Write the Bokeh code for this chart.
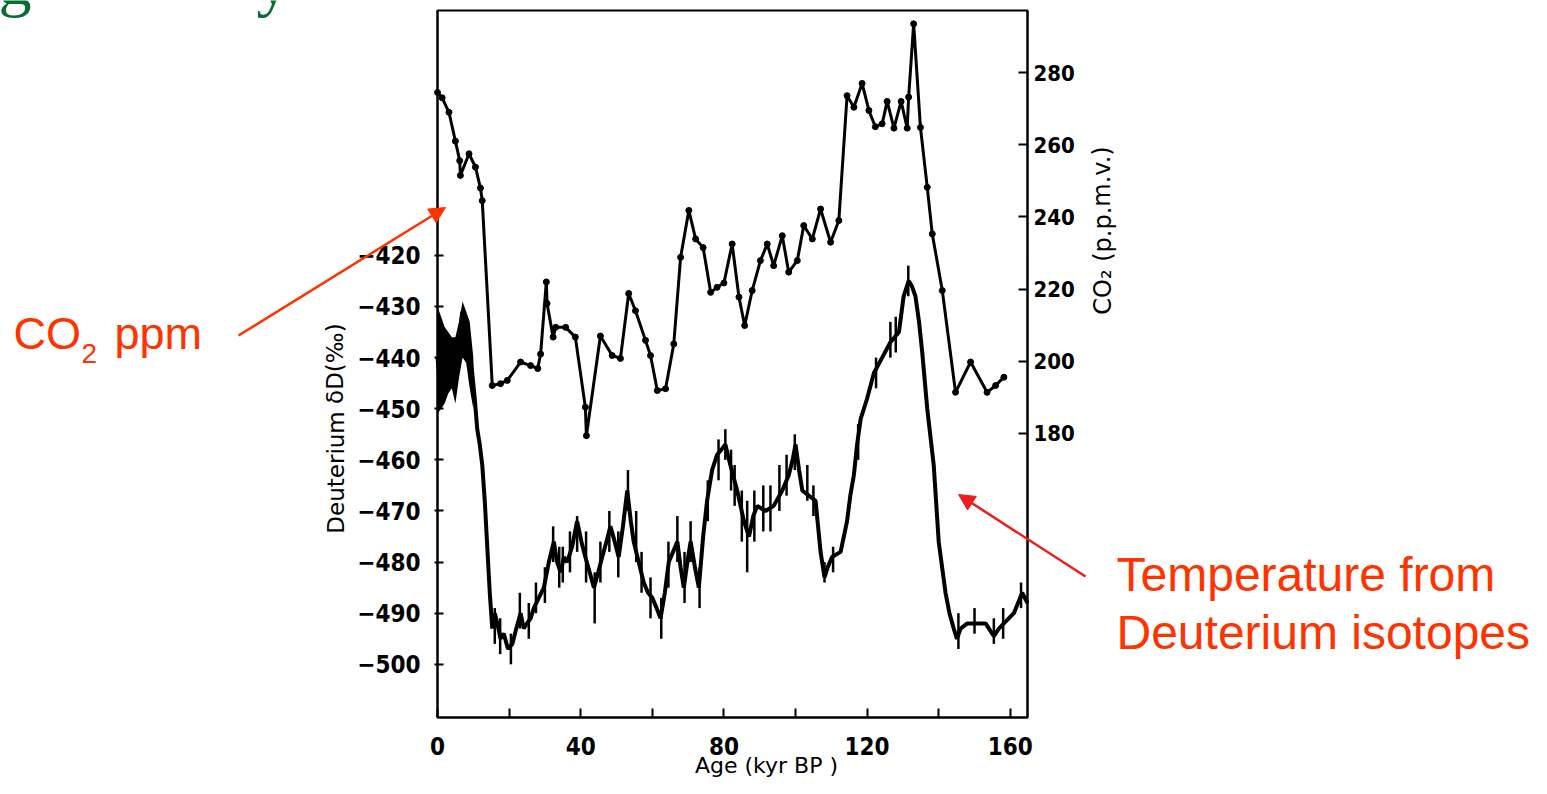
from bokeh.plotting import figure
from bokeh.models import (Range1d, LinearAxis, FixedTicker, Label, Arrow, NormalHead)
from bokeh.embed import file_html
from bokeh.resources import INLINE

# ---------------- data ----------------
co2_age = [0.0, 1.3, 3.2, 5.0, 6.2, 6.4, 8.8, 10.6, 12.0, 12.5, 15.3, 17.6, 19.5, 23.2, 26.0,
           28.0, 28.8, 30.4, 30.6, 32.3, 33.0, 35.8, 38.5, 41.3, 41.6, 45.5, 48.8, 51.1, 53.4,
           55.3, 58.1, 59.5, 61.4, 63.7, 66.0, 67.9, 70.2, 72.1, 74.2, 76.3, 78.1, 80.0, 82.3,
           84.2, 85.8, 87.9, 90.2, 92.1, 93.9, 96.3, 98.1, 100.5, 102.3, 104.7, 107.0, 109.8,
           112.1, 114.4, 116.3, 118.6, 120.5, 122.3, 124.2, 125.6, 127.5, 129.5, 131.2, 131.6,
           133.0, 134.9, 136.8, 138.2, 141.0, 144.7, 148.9, 153.5, 155.9, 158.2]
co2_ppm = [274.5, 273, 269, 261, 255.6, 251.5, 257.5, 253.8, 248, 244.5, 193.3, 193.8, 194.7,
           199.8, 198.8, 198, 202, 222, 216, 206.7, 209.4, 209.4, 206.7, 187.3, 179.4, 207,
           201.6, 200.8, 218.8, 214, 205.8, 201.6, 191.9, 192.4, 204.8, 228.8, 241.8, 233.9,
           231.5, 219.1, 220.5, 221.7, 232.5, 217.8, 209.9, 219.6, 227.9, 232.5, 226.5, 234.8,
           224.7, 227.9, 237.6, 233.9, 242.2, 233, 239, 273.6, 270.4, 277, 269.5, 265, 265.8,
           272, 264.6, 272, 264.6, 273.2, 293.5, 264.8, 248.2, 235.3, 219.6, 191.4, 199.8,
           191.4, 193.3, 195.6]

dd_age = [0.0, 0.8, 1.5, 2.2, 3.0, 3.6, 4.3, 5.0, 5.5, 6.2, 6.9, 7.6, 8.3, 9.0, 9.7, 10.4, 11.1,
          11.8, 12.5, 13.2, 13.9, 14.6, 15.3, 16.0, 16.7, 17.6, 18.5, 19.7, 20.9, 22.0, 23.2,
          24.1, 25.0, 26.0, 26.9, 28.3, 29.7, 31.1, 32.5, 33.4, 34.4, 35.3, 36.2, 37.6, 39.0,
          40.2, 41.3, 42.5, 43.7, 44.9, 46.0, 47.2, 48.3, 49.5, 50.6, 51.8, 53.0, 54.0, 54.8,
          56.2, 57.6, 58.8, 60.0, 61.2, 62.3, 63.5, 64.6, 65.8, 67.0, 67.9, 68.8, 69.8, 70.7,
          71.9, 73.0, 74.2, 75.3, 76.7, 78.1, 79.3, 80.4, 81.8, 83.7, 85.6, 87.0, 88.2, 89.3,
          91.6, 93.9, 96.3, 98.1, 99.2, 100.0, 101.0, 101.9, 103.7, 105.6, 107.0, 108.1, 109.0,
          110.2, 112.6, 113.5, 114.4, 115.3, 116.3, 117.2, 118.2, 120.0, 121.9, 124.2, 126.5,
          128.9, 130.2, 131.6, 132.5, 133.5, 134.5, 135.4, 136.8, 138.6, 140.0, 141.9, 143.0,
          144.2, 145.1, 146.1, 148.0, 150.8, 153.1, 155.4, 156.8, 158.2, 161.0, 163.3, 164.8]
dd_val = [-440, -446, -436, -443, -437, -440, -445, -438, -442, -436, -431, -436, -434, -438,
          -443, -448, -454, -457, -461, -468, -477, -486, -493, -490, -492, -495, -494, -497,
          -496, -493, -490, -493, -492, -491, -489, -487, -485, -480, -476, -480, -482, -479,
          -480, -477, -472, -476, -479, -482, -485, -482, -479, -476, -473, -476, -479, -473,
          -466, -472, -476, -480, -484, -486, -487, -489, -491, -486, -480, -478, -476, -481,
          -485, -480, -476, -481, -485, -475, -468, -462, -459, -458, -457, -461, -466, -472,
          -475, -471, -469, -470, -469, -466, -463, -460, -457, -462, -466, -467, -468, -478,
          -483, -481, -479, -478, -475, -472, -467, -463, -457, -452, -448, -443, -440, -437,
          -435, -428, -425, -426, -428, -433, -439, -450, -461, -476, -486, -490, -493, -495,
          -493, -492, -492, -492, -494.5, -493, -492, -490, -486, -488]

# dense scatter band of the most recent 10 kyr (age, lower edge, upper edge)
band_age = [0, 1, 2, 3, 4, 5, 6, 7, 8, 9, 10]
band_lo = [-451, -450, -449, -447, -446, -449, -444, -440, -441, -446, -450]
band_hi = [-430, -432, -434, -435, -436, -436, -433, -429, -431, -433, -440]

# short-term scatter of the deuterium record (age, low, high)
spk_age = [16.0, 17.5, 20.5, 23.0, 25.5, 27.5, 30.0, 32.3, 34.0, 35.0, 37.0, 39.0, 41.5,
           43.9, 45.5, 48.0, 50.5, 53.2, 55.5, 57.0, 59.5, 62.5, 64.5, 67.0, 69.0, 70.7,
           73.2, 75.5, 78.5, 80.4, 82.0, 83.0, 85.0, 86.5, 88.5, 91.0, 93.0, 95.5, 97.5,
           99.8, 103.3, 105.0, 108.1, 110.5, 117.5, 122.5, 126.5, 128.0, 131.5, 145.5,
           150.0, 155.4, 158.0, 163.0]
spk_lo = [-496, -498, -500, -493, -495, -490, -488, -480, -485, -484, -482, -478, -484,
          -492, -484, -478, -483, -470, -480, -486, -491, -495, -485, -480, -488, -480,
          -489, -472, -464, -460, -466, -469, -476, -482, -476, -474, -474, -470, -467,
          -462, -468, -471, -484, -482, -460, -446, -440, -439, -428, -497,
          -494, -496, -495, -489]
spk_hi = [-489, -491, -494, -486, -488, -484, -481, -473, -477, -477, -474, -471, -474,
          -482, -476, -470, -474, -462, -470, -478, -483, -487, -476, -471, -478, -472,
          -481, -464, -456, -454, -458, -461, -466, -468, -466, -465, -465, -461, -459,
          -455, -461, -465, -480, -477, -453, -440, -433, -432, -422, -490,
          -489, -491, -489, -484]

dd_ticks = [-500, -490, -480, -470, -460, -450, -440, -430, -420]
co2_ticks = [180, 200, 220, 240, 260, 280]
age_ticks = [0, 40, 80, 120, 160]
age_minor = [20, 60, 100, 140]

# ---------------- layout ----------------
W, H = 1531, 778
# pixel position of the chart box on the canvas
FL, FR, FT, FB = 437, 1027, 10, 717
XB = (0.0, 164.8)         # age at box left / right
YB = (-510.4, -372.1)     # deuterium at box bottom / top
RB = (101.3, 297.2)       # CO2 at box bottom / top

def ext(lo, hi, p_lo, p_hi, n):
    per = (hi - lo) / (p_hi - p_lo)
    return lo - p_lo * per, hi + (n - p_hi) * per

x_full = ext(XB[0], XB[1], FL, FR, W)
yl_full = ext(YB[0], YB[1], H - FB, H - FT, H)
yr_full = ext(RB[0], RB[1], H - FB, H - FT, H)

def dx(px):
    return x_full[0] + px * (x_full[1] - x_full[0]) / W

def dy(py):
    return yl_full[0] + (H - py) * (yl_full[1] - yl_full[0]) / H

p = figure(width=W, height=H, output_backend="svg", toolbar_location=None,
           x_range=Range1d(*x_full), y_range=Range1d(*yl_full),
           x_axis_location=None, y_axis_location=None,
           min_border=0)
p.background_fill_color = "white"
p.border_fill_color = "white"
p.outline_line_color = None
p.xgrid.visible = False
p.ygrid.visible = False

TICKFONT = "DejaVu Sans Condensed"

def style(axis, size):
    axis.major_label_text_font = TICKFONT
    axis.major_label_text_font_style = "bold"
    axis.major_label_text_font_size = size
    axis.major_label_text_color = "black"
    axis.axis_line_width = 2
    axis.axis_line_color = "black"
    axis.major_tick_line_width = 2
    axis.major_tick_line_color = "black"
    axis.minor_tick_line_width = 2
    axis.minor_tick_line_color = "black"

ax = LinearAxis(fixed_location=YB[0], bounds=XB,
                ticker=FixedTicker(ticks=age_ticks, minor_ticks=age_minor))
style(ax, "24px")
ax.major_tick_in = 9
ax.major_tick_out = 0
ax.minor_tick_in = 9
ax.minor_tick_out = 0
ax.major_label_standoff = 19
p.add_layout(ax, "below")

ay = LinearAxis(fixed_location=XB[0], bounds=YB, ticker=FixedTicker(ticks=dd_ticks))
style(ay, "24px")
ay.major_tick_in = 6
ay.major_tick_out = 3
ay.minor_tick_in = 0
ay.minor_tick_out = 0
ay.major_label_standoff = 14
p.add_layout(ay, "left")

p.extra_y_ranges = {"co2": Range1d(*yr_full)}
ar = LinearAxis(y_range_name="co2", fixed_location=XB[1], bounds=RB,
                ticker=FixedTicker(ticks=co2_ticks))
style(ar, "22px")
ar.major_tick_in = 9
ar.major_tick_out = 0
ar.minor_tick_in = 0
ar.minor_tick_out = 0
ar.major_label_standoff = 6
p.add_layout(ar, "right")

# chart box
p.quad(left=[XB[0]], right=[XB[1]], bottom=[YB[0]], top=[YB[1]],
       fill_color=None, line_color="black", line_width=2)

# ---------------- data marks ----------------
p.varea(x=band_age, y1=band_lo, y2=band_hi, fill_color="black")
p.segment(x0=spk_age, y0=spk_lo, x1=spk_age, y1=spk_hi, line_color="black", line_width=2.5)
p.line(dd_age, dd_val, line_color="black", line_width=4)
p.line(co2_age, co2_ppm, line_color="black", line_width=3, y_range_name="co2")
p.scatter(co2_age, co2_ppm, size=6, color="black", y_range_name="co2")

# ---------------- axis titles ----------------
p.add_layout(Label(x=dx(335), y=dy(428), text="Deuterium δD(‰)", angle=1.5708,
                   text_align="center", text_baseline="middle",
                   text_font="DejaVu Sans", text_font_size="23px", text_color="black"))
p.add_layout(Label(x=dx(1102), y=dy(230), text="CO₂ (p.p.m.v.)", angle=1.5708,
                   text_align="center", text_baseline="middle",
                   text_font="DejaVu Sans", text_font_size="24px", text_color="black"))
p.add_layout(Label(x=dx(766), y=dy(765), text="Age (kyr BP )",
                   text_align="center", text_baseline="middle",
                   text_font="DejaVu Sans", text_font_size="22px", text_color="black"))

# ---------------- slide annotations ----------------
RED = "#FF3300"
p.add_layout(Label(x=dx(13), y=dy(333), text="CO", text_align="left", text_baseline="alphabetic",
                   text_font="Liberation Sans", text_font_size="45px", text_color=RED))
p.add_layout(Label(x=dx(81), y=dy(353), text="2", text_align="left", text_baseline="alphabetic",
                   text_font="Liberation Sans", text_font_size="28px", text_color=RED))
p.add_layout(Label(x=dx(114), y=dy(333), text="ppm", text_align="left", text_baseline="alphabetic",
                   text_font="Liberation Sans", text_font_size="45px", text_color=RED))
p.add_layout(Label(x=dx(1116), y=dy(574), text="Temperature from", text_align="left",
                   text_baseline="alphabetic", text_font="Liberation Sans",
                   text_font_size="48px", text_color=RED))
p.add_layout(Label(x=dx(1116), y=dy(632), text="Deuterium isotopes", text_align="left",
                   text_baseline="alphabetic", text_font="Liberation Sans",
                   text_font_size="48px", text_color=RED))

p.add_layout(Arrow(end=NormalHead(size=16, fill_color=RED, line_color=RED),
                   x_start=dx(238), y_start=dy(335), x_end=dx(445), y_end=dy(207),
                   line_color=RED, line_width=2.5))
p.add_layout(Arrow(end=NormalHead(size=16, fill_color="#EE1C1C", line_color="#EE1C1C"),
                   x_start=dx(1085), y_start=dy(576), x_end=dx(958), y_end=dy(494),
                   line_color="#EE1C1C", line_width=2.5))

# cut-off slide title (only descenders visible)
GREEN = "#0A6B35"
p.add_layout(Label(x=dx(-2), y=dy(-19), text="g", text_align="left", text_baseline="alphabetic",
                   text_font="Liberation Serif", text_font_size="66px", text_color=GREEN))
p.add_layout(Label(x=dx(256), y=dy(-19), text="y", text_align="left", text_baseline="alphabetic",
                   text_font="Liberation Serif", text_font_size="66px", text_color=GREEN))

open("out.html", "w").write(file_html(p, INLINE))
